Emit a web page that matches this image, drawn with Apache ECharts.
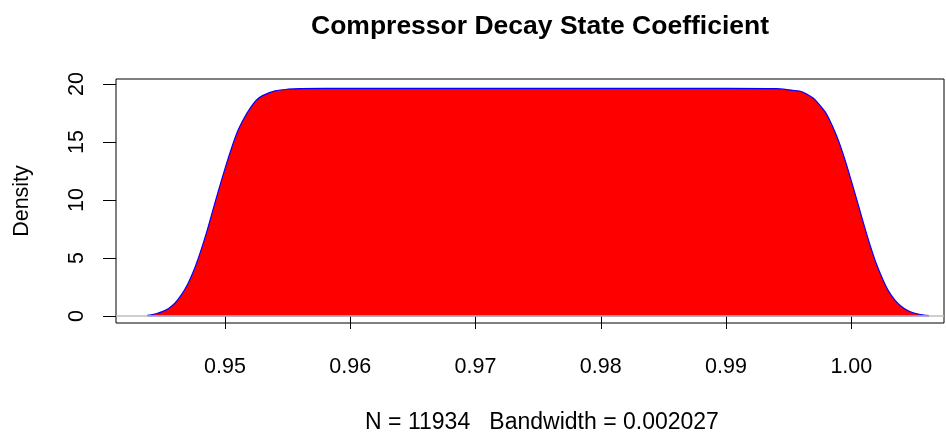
<!DOCTYPE html>
<html>
<head>
<meta charset="utf-8">
<script src="https://cdn.jsdelivr.net/npm/echarts@6/dist/echarts.min.js"></script>
<style>
  html, body { margin: 0; padding: 0; background: #fff; }
  #chart { width: 946px; height: 432px; }
</style>
</head>
<body>
<div id="chart"></div>
<script>
// density estimate
const densX = [
  0.9438, 0.9445, 0.9450, 0.9455, 0.9460, 0.9465, 0.9470, 0.9475, 0.9480, 0.9485,
  0.9490, 0.9495, 0.9500, 0.9505, 0.9510, 0.9515, 0.9520, 0.9525, 0.9530, 0.9540,
  0.9550, 0.9560, 0.9600, 0.9700, 0.9800, 0.9900, 0.9940, 0.9950, 0.9960, 0.9965,
  0.9970, 0.9975, 0.9980, 0.9985, 0.9990, 0.9995, 1.0000, 1.0005, 1.0010, 1.0015,
  1.0020, 1.0025, 1.0030, 1.0035, 1.0040, 1.0045, 1.0050, 1.0055, 1.0062
];
const densY = [
  0.05, 0.2, 0.38, 0.66, 1.1, 1.8, 2.7, 3.9, 5.4, 7.1,
  9.0, 10.9, 12.7, 14.4, 15.9, 17.0, 17.9, 18.6, 19.0, 19.4,
  19.55, 19.6, 19.62, 19.62, 19.62, 19.62, 19.6, 19.5, 19.35, 19.1,
  18.75, 18.15, 17.45, 16.35, 15.05, 13.45, 11.65, 9.8, 7.9, 6.1,
  4.5, 3.2, 2.1, 1.35, 0.82, 0.47, 0.26, 0.13, 0.04
];
const xTicks = [0.95, 0.96, 0.97, 0.98, 0.99, 1.00];
const yTicks = [0, 5, 10, 15, 20];

const chart = echarts.init(document.getElementById('chart'));
const font = 'Liberation Sans, Arial, sans-serif';

const curve = densX.map((x, i) => [x, densY[i]]);

const option = {
  animation: false,
  title: [
    {
      text: 'Compressor Decay State Coefficient',
      left: 535, top: 8, textAlign: 'center',
      textStyle: { fontFamily: font, fontSize: 26.5, fontWeight: 'bold', color: '#000' }
    },
    {
      text: 'N = 11934   Bandwidth = 0.002027',
      left: 537, top: 406, textAlign: 'center',
      textStyle: { fontFamily: font, fontSize: 23, fontWeight: 'normal', color: '#000' }
    }
  ],
  grid: {
    left: 116, top: 79, right: 2, bottom: 109,
    show: true, borderColor: '#000', borderWidth: 1, backgroundColor: 'transparent'
  },
  xAxis: {
    type: 'value', min: 0.9413, max: 1.0074,
    axisLine: { show: false },
    splitLine: { show: false },
    axisTick: { show: true, inside: false, length: 13, customValues: xTicks,
      lineStyle: { color: '#000', width: 1 } },
    axisLabel: { customValues: xTicks, margin: 33, fontFamily: font, fontSize: 21.5, color: '#000',
      formatter: v => v.toFixed(2) }
  },
  yAxis: {
    type: 'value', min: -0.6, max: 20.43,
    name: 'Density', nameLocation: 'middle', nameGap: 83, nameRotate: 90,
    nameTextStyle: { fontFamily: font, fontSize: 21.5, color: '#000' },
    axisLine: { show: false },
    splitLine: { show: false },
    axisTick: { show: true, inside: false, length: 13, customValues: yTicks,
      lineStyle: { color: '#000', width: 1 } },
    axisLabel: { customValues: yTicks, rotate: 90, margin: 28, fontFamily: font, fontSize: 21.5, color: '#000' }
  },
  series: [
    {
      type: 'line',
      data: [],
      z: 1,
      markLine: {
        silent: true, symbol: 'none', label: { show: false },
        lineStyle: { color: '#bebebe', type: 'solid', width: 1.5 },
        data: [{ yAxis: 0 }]
      }
    },
    {
      type: 'line',
      data: curve,
      z: 2,
      smooth: 0.3,
      symbol: 'none',
      lineStyle: { color: '#0000ff', width: 1.2 },
      areaStyle: { color: '#ff0000', opacity: 1 }
    },
    {
      type: 'line',
      data: [[densX[0], 0], [densX[densX.length - 1], 0]],
      z: 3,
      symbol: 'none',
      lineStyle: { color: '#0000ff', width: 1 }
    }
  ]
};

chart.setOption(option);
window.addEventListener('resize', chart.resize);
</script>
</body>
</html>
